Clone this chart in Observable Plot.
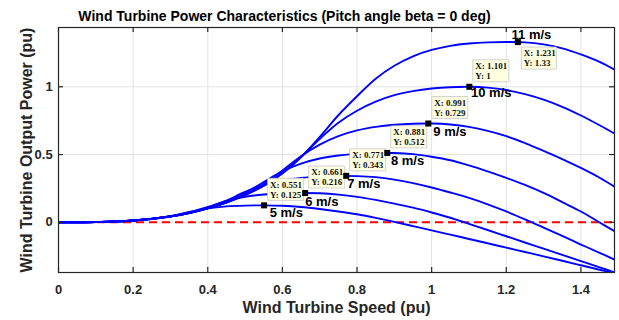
<!DOCTYPE html>
<html><head><meta charset="utf-8">
<script src="https://cdn.jsdelivr.net/npm/d3@7"></script>
<script src="https://cdn.jsdelivr.net/npm/@observablehq/plot@0.6"></script>
<style>body{margin:0;background:#fff}</style>
</head><body><div id="chart"></div>
<script>
// ---- data ----
const speedGrid = [0, 0.1, 0.2, 0.3, 0.35, 0.4, 0.45, 0.5, 0.55, 0.6, 0.65, 0.7, 0.75, 0.8, 0.85, 0.9, 0.95, 1.0, 1.05, 1.1, 1.15, 1.2, 1.25, 1.3, 1.35, 1.4, 1.45, 1.49];
const windSpeeds = ["5 m/s", "6 m/s", "7 m/s", "8 m/s", "9 m/s", "10 m/s", "11 m/s"];
const power5  = [0, 0.0016, 0.0129, 0.0455, 0.0769, 0.103, 0.1175, 0.1234, 0.125, 0.122, 0.113, 0.098, 0.080, 0.059, 0.033, 0.0036, -0.0279, -0.060, -0.091, -0.123, -0.155, -0.187, -0.219, -0.251, -0.284, -0.317, -0.350, -0.376];
const power6  = [0, 0.0015, 0.013, 0.043, 0.072, 0.1136, 0.1575, 0.1886, 0.205, 0.213, 0.216, 0.214, 0.2044, 0.188, 0.165, 0.138, 0.108, 0.0726, 0.0337, -0.0118, -0.057, -0.103, -0.149, -0.194, -0.240, -0.286, -0.332, -0.369];
const power7  = [0, 0.0014, 0.0127, 0.043, 0.069, 0.106, 0.160, 0.224, 0.274, 0.309, 0.328, 0.339, 0.3425, 0.341, 0.333, 0.315, 0.289, 0.257, 0.220, 0.180, 0.133, 0.080, 0.022, -0.039, -0.101, -0.164, -0.225, -0.275];
const power8  = [0, 0.0015, 0.0128, 0.0435, 0.0686, 0.1024, 0.150, 0.217, 0.297, 0.376, 0.433, 0.471, 0.493, 0.505, 0.511, 0.511, 0.503, 0.484, 0.458, 0.420, 0.376, 0.328, 0.276, 0.2166, 0.149, 0.0795, -0.0014, -0.065];
const power9  = [0, 0.0015, 0.013, 0.0437, 0.069, 0.103, 0.146, 0.204, 0.283, 0.383, 0.488, 0.573, 0.636, 0.678, 0.704, 0.7195, 0.7275, 0.729, 0.722, 0.704, 0.675, 0.636, 0.585, 0.528, 0.467, 0.401, 0.329, 0.263];
const power10 = [0, 0.0015, 0.013, 0.045, 0.068, 0.103, 0.147, 0.200, 0.270, 0.364, 0.483, 0.615, 0.735, 0.823, 0.890, 0.938, 0.968, 0.987, 0.997, 1.0, 0.994, 0.976, 0.946, 0.905, 0.852, 0.788, 0.716, 0.655];
const power11 = [0, 0.0014, 0.013, 0.044, 0.069, 0.103, 0.146, 0.202, 0.270, 0.360, 0.480, 0.630, 0.790, 0.930, 1.060, 1.155, 1.225, 1.272, 1.302, 1.319, 1.328, 1.331, 1.328, 1.313, 1.284, 1.239, 1.184, 1.127];
const peakSpeed = [0.551, 0.661, 0.771, 0.881, 0.991, 1.101, 1.231];
const peakPower = [0.125, 0.216, 0.343, 0.512, 0.729, 1, 1.33];
const peakSpeedText = ["0.551", "0.661", "0.771", "0.881", "0.991", "1.101", "1.231"];
const peakPowerText = ["0.125", "0.216", "0.343", "0.512", "0.729", "1", "1.33"];
const xTicks = [0, 0.2, 0.4, 0.6, 0.8, 1, 1.2, 1.4];
const xTickLabels = ["0", "0.2", "0.4", "0.6", "0.8", "1", "1.2", "1.4"];
const yTicks = [0, 0.5, 1];
const yTickLabels = ["0", "0.5", "1"];

// ---- tables built from the arrays ----
const powerSeries = [power5, power6, power7, power8, power9, power10, power11];
const curves = windSpeeds.flatMap((s, i) => speedGrid.map((x, j) => ({speed: s, x, y: powerSeries[i][j]})));
const tips = windSpeeds.map((s, i) => ({speed: s, x: peakSpeed[i], y: peakPower[i], label: `X: ${peakSpeedText[i]}\nY: ${peakPowerText[i]}`, below: i === 6}));

// ---- layout / style ----
const W = 619, H = 320, mL = 58, mR = 5, mT = 27, mB = 48;
const fw = W - mL - mR, fh = H - mT - mB;
const ink = "#262626";
const sans = "'Liberation Sans', Arial, sans-serif";
const serif = "'Liberation Serif', 'Times New Roman', serif";
const labelOffsets = [[5.6, 12], [0, 13.3], [1, 11.7], [3.7, 12.3], [5, 12], [1.7, 10.7], [-6.3, -2.6]];
const boxAbove = {draw(ctx) { ctx.rect(3.5, -27, 36, 22); }};
const boxBelow = {draw(ctx) { ctx.rect(3.5, 5, 35, 22); }};

const chart = Plot.plot({
  width: W, height: H,
  marginLeft: mL, marginRight: mR, marginTop: mT, marginBottom: mB,
  style: {fontFamily: sans, background: "#fff", overflow: "visible"},
  x: {domain: [0, 1.49], axis: null},
  y: {domain: [-0.3705, 1.4376], axis: null},
  marks: [
    Plot.gridX(xTicks, {stroke: "#e3e3e3", strokeOpacity: 1}),
    Plot.gridY(yTicks, {stroke: "#e3e3e3", strokeOpacity: 1}),
    Plot.ruleY([0], {stroke: "#ff0000", strokeWidth: 2, strokeDasharray: "8,5"}),
    Plot.line(curves, {x: "x", y: "y", z: "speed", stroke: "#0000ff", strokeWidth: 1.9, curve: "catmull-rom", clip: true}),
    Plot.frame({stroke: ink, strokeWidth: 1.2}),
    Plot.tickX(xTicks, {x: d => d, insetTop: fh - 5, stroke: ink, strokeWidth: 1.2}),
    Plot.tickX(xTicks, {x: d => d, insetBottom: fh - 5, stroke: ink, strokeWidth: 1.2}),
    Plot.tickY(yTicks, {y: d => d, insetRight: fw - 5, stroke: ink, strokeWidth: 1.2}),
    Plot.tickY(yTicks, {y: d => d, insetLeft: fw - 5, stroke: ink, strokeWidth: 1.2}),
    Plot.text(xTicks, {x: d => d, text: (d, i) => xTickLabels[i], frameAnchor: "bottom", textAnchor: "middle", lineAnchor: "bottom", dy: 21, fontSize: 13, fontWeight: "bold", fill: ink}),
    Plot.text(yTicks, {y: d => d, text: (d, i) => yTickLabels[i], frameAnchor: "left", textAnchor: "end", dx: -5.8, fontSize: 13, fontWeight: "bold", fill: ink}),
    Plot.dot(tips.filter(d => !d.below), {x: "x", y: "y", r: 1, symbol: boxAbove, fill: "#ffffe1", stroke: "#c8c8c8", strokeWidth: 0.8}),
    Plot.dot(tips.filter(d => d.below), {x: "x", y: "y", r: 1, symbol: boxBelow, fill: "#ffffe1", stroke: "#c8c8c8", strokeWidth: 0.8}),
    Plot.text(tips.filter(d => !d.below), {x: "x", y: "y", text: "label", dx: 6, dy: -16, textAnchor: "start", lineAnchor: "middle", lineHeight: 1.12, fontFamily: serif, fontWeight: "bold", fontSize: 9, fill: "#111"}),
    Plot.text(tips.filter(d => d.below), {x: "x", y: "y", text: "label", dx: 6, dy: 16, textAnchor: "start", lineAnchor: "middle", lineHeight: 1.12, fontFamily: serif, fontWeight: "bold", fontSize: 9, fill: "#111"}),
    Plot.dot(tips, {x: "x", y: "y", symbol: "square", r: 3.4, fill: "#000", stroke: "none"}),
    ...tips.map((t, i) => Plot.text([t], {x: "x", y: "y", text: "speed", dx: labelOffsets[i][0], dy: labelOffsets[i][1], textAnchor: "start", lineAnchor: "bottom", fontSize: 13, fontWeight: "bold", fill: "#000"})),
    Plot.text(["Wind Turbine Power Characteristics (Pitch angle beta = 0 deg)"], {frameAnchor: "top", textAnchor: "middle", dx: -52, dy: -7, lineAnchor: "bottom", fontSize: 14, fontWeight: "bold", fill: "#000"}),
    Plot.text(["Wind Turbine Speed (pu)"], {frameAnchor: "bottom", textAnchor: "middle", dy: 40.7, lineAnchor: "bottom", fontSize: 16, fontWeight: "bold", fill: ink}),
    Plot.text(["Wind Turbine Output Power (pu)"], {frameAnchor: "left", textAnchor: "middle", dx: -27, rotate: -90, lineAnchor: "bottom", fontSize: 16, fontWeight: "bold", fill: ink})
  ]
});
document.getElementById("chart").appendChild(chart);
</script>
</body></html>
